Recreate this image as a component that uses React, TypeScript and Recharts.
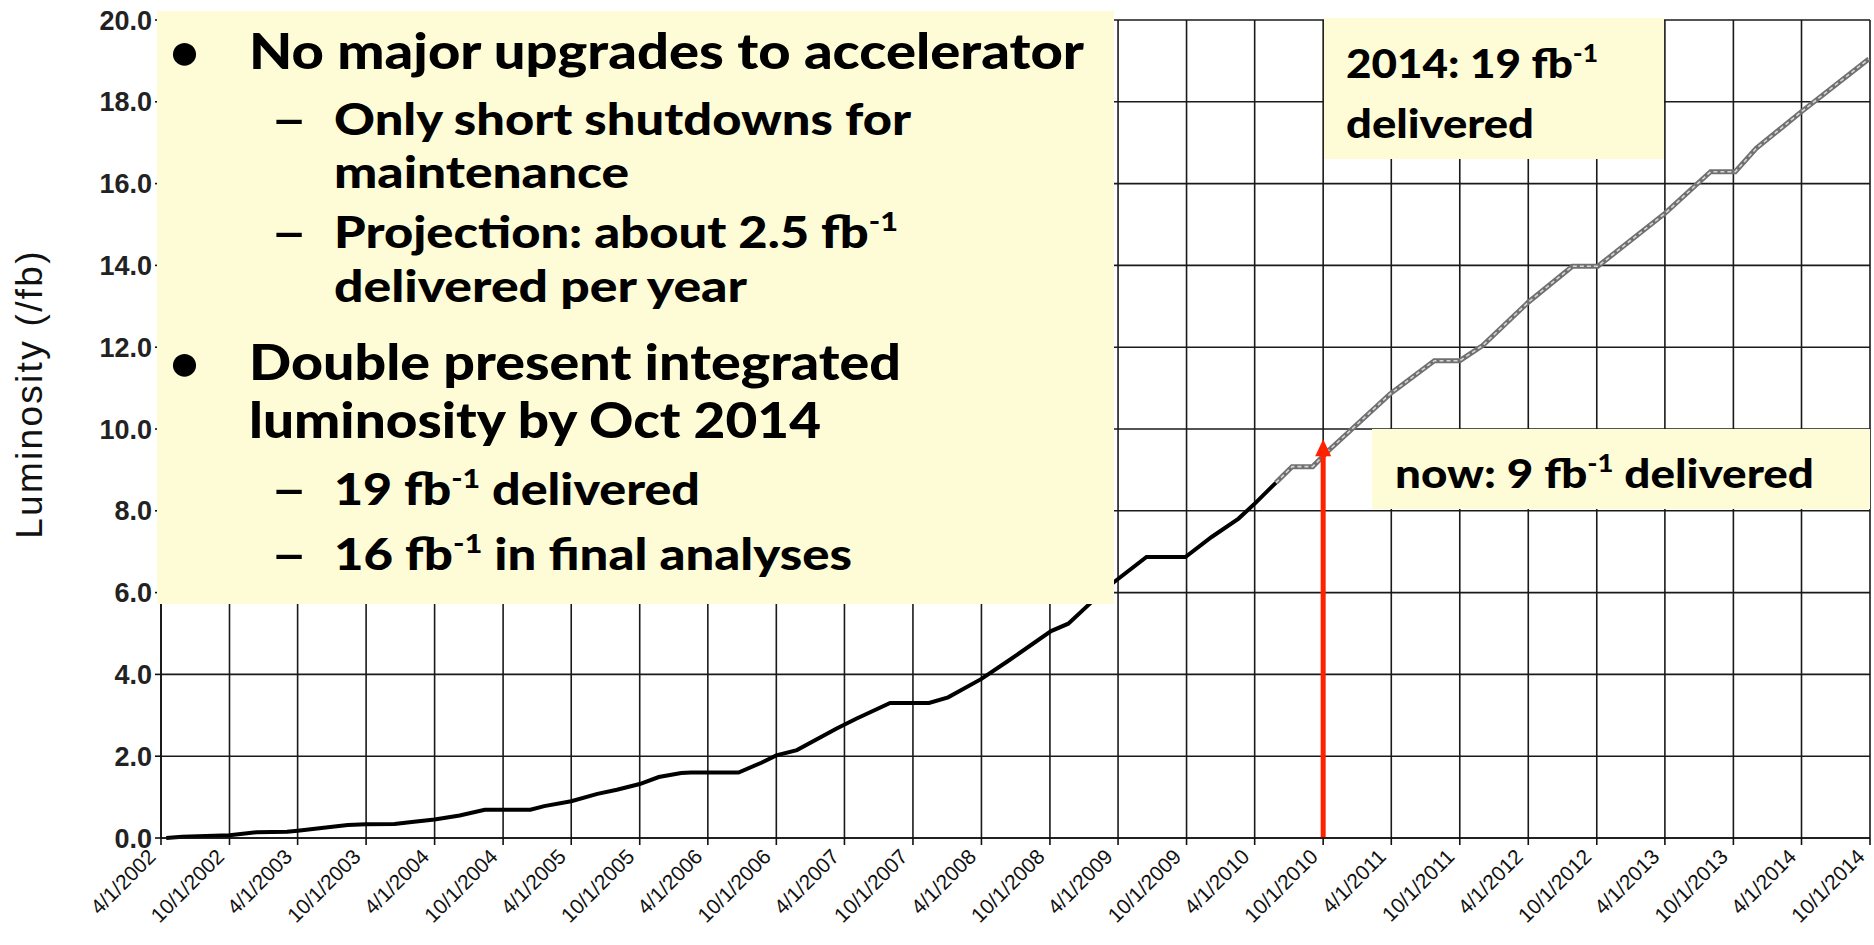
import React from 'react'
import { LineChart, Line, XAxis, YAxis, CartesianGrid, ReferenceLine } from 'recharts'

const tickLabels = [
  '4/1/2002', '10/1/2002', '4/1/2003', '10/1/2003', '4/1/2004', '10/1/2004',
  '4/1/2005', '10/1/2005', '4/1/2006', '10/1/2006', '4/1/2007', '10/1/2007',
  '4/1/2008', '10/1/2008', '4/1/2009', '10/1/2009', '4/1/2010', '10/1/2010',
  '4/1/2011', '10/1/2011', '4/1/2012', '10/1/2012', '4/1/2013', '10/1/2013',
  '4/1/2014', '10/1/2014',
]
const yTicks = [0, 2, 4, 6, 8, 10, 12, 14, 16, 18, 20]

// delivered so far (black)
const actualDates = [
  '2002-04-15', '2002-05-28', '2002-10-01', '2002-12-13', '2003-03-04', '2003-04-01',
  '2003-06-04', '2003-08-13', '2003-10-01', '2003-12-16', '2004-01-25', '2004-04-01',
  '2004-06-07', '2004-08-13', '2004-12-13', '2005-01-19', '2005-04-01', '2005-06-10',
  '2005-08-01', '2005-10-01', '2005-11-21', '2006-01-20', '2006-02-15', '2006-06-22',
  '2006-08-22', '2006-10-01', '2006-11-25', '2007-03-10', '2007-05-01', '2007-08-01',
  '2007-11-13', '2008-01-03', '2008-04-01', '2008-06-13', '2008-10-04', '2008-11-19',
  '2009-01-25', '2009-03-19', '2009-06-16', '2009-09-28', '2009-12-07', '2010-02-17',
  '2010-04-04', '2010-05-28',
]
const actualLumi = [
  0.0, 0.03, 0.07, 0.14, 0.155, 0.18,
  0.245, 0.32, 0.335, 0.343, 0.385, 0.45,
  0.55, 0.69, 0.69, 0.78, 0.9, 1.08,
  1.18, 1.32, 1.49, 1.59, 1.6, 1.6,
  1.84, 2.02, 2.15, 2.67, 2.91, 3.3,
  3.3, 3.44, 3.89, 4.34, 5.06, 5.24,
  5.81, 6.24, 6.87, 6.87, 7.36, 7.81,
  8.2, 8.69,
]

// projection (grey)
const projDates = [
  '2010-05-28', '2010-07-10', '2010-09-03', '2010-10-15', '2011-03-29', '2011-07-25',
  '2011-10-01', '2011-12-01', '2012-04-01', '2012-07-28', '2012-10-04', '2013-04-01',
  '2013-08-01', '2013-10-06', '2013-12-01', '2014-04-01', '2014-09-28',
]
const projLumi = [
  8.69, 9.08, 9.08, 9.47, 10.86, 11.67,
  11.67, 12.04, 13.1, 13.98, 13.98, 15.27,
  16.29, 16.29, 16.86, 17.76, 19.05,
]

const nowDate = '2010-10-01'
const nowArrowTop = 9.75

function labelToTime(label: string) {
  const [m, d, y] = label.split('/').map(Number)
  return Date.UTC(y, m - 1, d)
}

const xTicks = tickLabels.map(labelToTime)
const labelByTime = new Map(xTicks.map((t, i) => [t, tickLabels[i]]))

const actualData = actualDates.map((d, i) => ({ t: Date.parse(d), v: actualLumi[i] }))
const projData = projDates.map((d, i) => ({ t: Date.parse(d), v: projLumi[i] }))

const axisFont = '"Liberation Sans", Arial, sans-serif'
const boxFont = 'Lato, "Open Sans", sans-serif'
const boxFill = '#FEFCD6'

function XTick(props: any) {
  const { x, y, payload } = props
  const ax = x - 4
  const ay = y + 11
  return (
    <text
      x={ax}
      y={ay}
      textAnchor="end"
      transform={`rotate(-45 ${ax} ${ay})`}
      fontSize={21}
      fontFamily={axisFont}
      fill="#111"
    >
      {labelByTime.get(payload.value)}
    </text>
  )
}

function Arrow(props: any) {
  const { x1, y1, x2, y2 } = props
  const x = (x1 + x2) / 2
  const top = Math.min(y1, y2)
  const bottom = Math.max(y1, y2)
  return (
    <g>
      <line x1={x} y1={bottom} x2={x} y2={top + 14} stroke="#FF2200" strokeWidth={5} />
      <polygon points={`${x},${top} ${x - 8},${top + 17} ${x + 8},${top + 17}`} fill="#FF2200" />
    </g>
  )
}

function Sup({ children, size, rise }: { children: React.ReactNode; size: number; rise: number }) {
  return <tspan dy={-rise} fontSize={size}>{children}</tspan>
}

function Dash({ x, y }: { x: number; y: number }) {
  return (
    <text transform={`translate(${x},${y}) scale(1.45,1)`} x={0} y={0} fontSize={43}>–</text>
  )
}

export default function App() {
  return (
    <div style={{ position: 'absolute', left: 0, top: 0, width: 1874, height: 945, background: '#fff' }}>
      <LineChart width={1874} height={945} margin={{ top: 20, right: 4, left: 0, bottom: 7 }}>
        <CartesianGrid stroke="#1a1a1a" strokeWidth={1.6} />
        <XAxis
          type="number"
          dataKey="t"
          domain={[xTicks[0], xTicks[xTicks.length - 1]]}
          ticks={xTicks}
          interval={0}
          height={100}
          tickSize={7}
          tick={<XTick />}
          axisLine={{ stroke: '#111', strokeWidth: 1.6 }}
          tickLine={{ stroke: '#111', strokeWidth: 1.6 }}
          allowDataOverflow
        />
        <YAxis
          type="number"
          domain={[0, 20]}
          ticks={yTicks}
          width={161}
          tickSize={6}
          tickMargin={3}
          tickFormatter={(v: number) => v.toFixed(1)}
          tick={{ fontSize: 27, fontWeight: 700, fontFamily: axisFont, fill: '#222' }}
          axisLine={{ stroke: '#111', strokeWidth: 1.6 }}
          tickLine={{ stroke: '#111', strokeWidth: 1.6 }}
        />
        <Line data={actualData} dataKey="v" type="linear" stroke="#000" strokeWidth={4} dot={false} isAnimationActive={false} />
        <Line data={projData} dataKey="v" type="linear" stroke="#707070" strokeWidth={5} dot={false} isAnimationActive={false} />
        <Line data={projData} dataKey="v" type="linear" stroke="#d6d6d6" strokeWidth={1.6} strokeDasharray="4 3" dot={false} isAnimationActive={false} />
        <ReferenceLine
          segment={[{ x: Date.parse(nowDate), y: 0 }, { x: Date.parse(nowDate), y: nowArrowTop }]}
          shape={<Arrow />}
        />
      </LineChart>

      <svg width={1874} height={945} style={{ position: 'absolute', left: 0, top: 0, pointerEvents: 'none' }}>
        <text
          transform="translate(29,394) rotate(-90)"
          textAnchor="middle"
          dominantBaseline="central"
          fontSize={37}
          fontFamily={axisFont}
          letterSpacing={2.3}
          fill="#111"
        >
          Luminosity (/fb)
        </text>

        <rect x={157} y={11} width={957} height={593} fill={boxFill} />
        <g fontFamily={boxFont} fontWeight={900} fill="#000">
          <text x={170} y={69} fontSize={50}>•</text>
          <text x={249} y={69} fontSize={50} textLength={835} lengthAdjust="spacingAndGlyphs">No major upgrades to accelerator</text>
          <Dash x={271} y={135} />
          <text x={334} y={135} fontSize={43} textLength={577} lengthAdjust="spacingAndGlyphs">Only short shutdowns for</text>
          <text x={334} y={188} fontSize={43} textLength={295} lengthAdjust="spacingAndGlyphs">maintenance</text>
          <Dash x={271} y={248} />
          <text x={334} y={248} fontSize={43} textLength={564} lengthAdjust="spacingAndGlyphs">
            Projection: about 2.5 fb<Sup size={26} rise={17}>-1</Sup>
          </text>
          <text x={334} y={302} fontSize={43} textLength={413} lengthAdjust="spacingAndGlyphs">delivered per year</text>
          <text x={170} y={380} fontSize={50}>•</text>
          <text x={249} y={380} fontSize={50} textLength={652} lengthAdjust="spacingAndGlyphs">Double present integrated</text>
          <text x={249} y={438} fontSize={50} textLength={572} lengthAdjust="spacingAndGlyphs">luminosity by Oct 2014</text>
          <Dash x={271} y={505} />
          <text x={334} y={505} fontSize={43} textLength={366} lengthAdjust="spacingAndGlyphs">
            19 fb<Sup size={26} rise={17}>-1</Sup><tspan dy={17}> delivered</tspan>
          </text>
          <Dash x={271} y={570} />
          <text x={334} y={570} fontSize={43} textLength={518} lengthAdjust="spacingAndGlyphs">
            16 fb<Sup size={26} rise={17}>-1</Sup><tspan dy={17}> in final analyses</tspan>
          </text>
        </g>

        <rect x={1324} y={18} width={340} height={141} fill={boxFill} />
        <g fontFamily={boxFont} fontWeight={900} fill="#000" fontSize={40}>
          <text x={1346} y={78} textLength={252} lengthAdjust="spacingAndGlyphs">
            2014: 19 fb<Sup size={24} rise={16}>-1</Sup>
          </text>
          <text x={1346} y={138} textLength={188} lengthAdjust="spacingAndGlyphs">delivered</text>
        </g>

        <rect x={1372} y={429} width={498} height={80} fill={boxFill} />
        <g fontFamily={boxFont} fontWeight={900} fill="#000" fontSize={40}>
          <text x={1395} y={488} textLength={419} lengthAdjust="spacingAndGlyphs">
            now: 9 fb<Sup size={24} rise={16}>-1</Sup><tspan dy={16}> delivered</tspan>
          </text>
        </g>
      </svg>
    </div>
  )
}
